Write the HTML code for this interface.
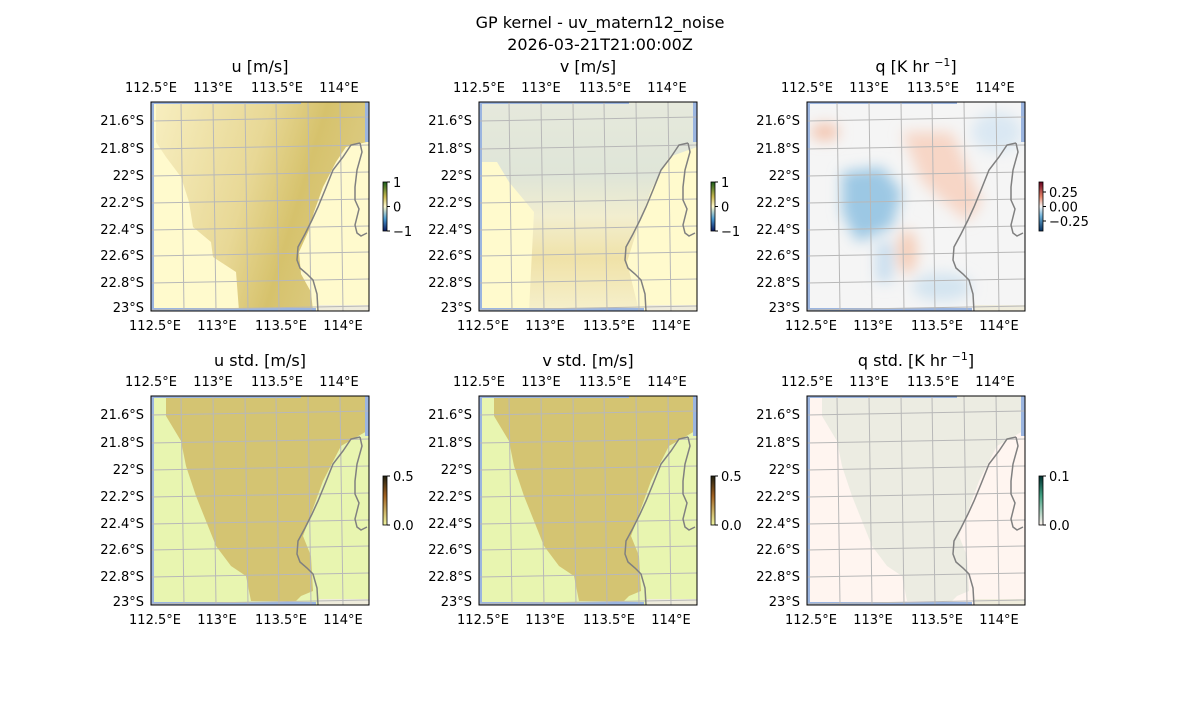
<!DOCTYPE html><html><head><meta charset="utf-8"><style>
body{margin:0;background:#fff;}
svg text{font-family:"DejaVu Sans","Liberation Sans",sans-serif;fill:#000;}
</style></head><body>
<svg id="s" width="1200" height="700" xmlns="http://www.w3.org/2000/svg">
<text x="600" y="28" font-size="16" text-anchor="middle">GP kernel - uv_matern12_noise</text>
<text x="600" y="50" font-size="16" text-anchor="middle">2026-03-21T21:00:00Z</text>
</svg>
<script>
const s=document.getElementById('s');let h='';
const cols=[151,479,807],rows=[102,396],W=218,H=209;
const titles=[["u [m/s]","v [m/s]","q [K hr <tspan dy='-6' font-size='11'>−1</tspan><tspan dy='6'>]</tspan>"],["u std. [m/s]","v std. [m/s]","q std. [K hr <tspan dy='-6' font-size='11'>−1</tspan><tspan dy='6'>]</tspan>"]];
function P(pts,x0,y0){return pts.map(p=>(p[0]+x0)+','+(p[1]+y0)).join(' ');}
const reg1=[[5,0],[5,40],[15,55],[30,75],[38,100],[42,125],[60,140],[62,155],[85,170],[88,209],[162,209],[160,190],[150,172],[148,150],[158,128],[163,110],[172,85],[185,60],[195,45],[216,40],[216,0]];
const reg2=[[15,0],[15,20],[30,45],[35,70],[45,100],[55,125],[65,150],[80,170],[95,180],[100,205],[145,205],[150,200],[162,195],[160,160],[152,140],[160,118],[172,85],[190,50],[216,35],[216,0]];
const coast="M209,41 L200,43 L192,55 L182,68 L174,88 L167,105 L161,118 L154,132 L147,145 L146,158 L149,166 L156,172 L162,178 L166,192 L167,209";
const pen="M209,41 L211,50 L206,68 L204,85 L204,98 L208,107 L206,115 L204,123 L206,131 L210,134 L216,131";
const vx=[31,63,95,126,158,190],hy=[18,46,73,100,127,153,180,207];
const bg=[["#fffacd","#fffacd","#f5f5f5"],["#e8f5b0","#e8f5b0","#fff5f0"]];
h+=`<defs>
<linearGradient id="gu" x1="0" x2="1" y1="0" y2="0.3"><stop offset="0" stop-color="#f7eebf"/><stop offset="0.5" stop-color="#e8d896"/><stop offset="0.75" stop-color="#d6c26c"/><stop offset="1" stop-color="#dccb82"/></linearGradient>
<linearGradient id="gv" x1="0" x2="0" y1="0" y2="1"><stop offset="0" stop-color="#e6e9dc"/><stop offset="0.35" stop-color="#dfe5d8"/><stop offset="0.55" stop-color="#f2eecf"/><stop offset="0.75" stop-color="#f0e2a8"/><stop offset="1" stop-color="#f6f0cc"/></linearGradient>
<linearGradient id="cb1" x1="0" x2="0" y1="0" y2="1"><stop offset="0" stop-color="#1a5e1a"/><stop offset="0.3" stop-color="#c8b850"/><stop offset="0.5" stop-color="#fffacd"/><stop offset="0.75" stop-color="#4a9ad0"/><stop offset="1" stop-color="#0a1a60"/></linearGradient>
<linearGradient id="cb2" x1="0" x2="0" y1="0" y2="1"><stop offset="0" stop-color="#67001f"/><stop offset="0.3" stop-color="#e8866a"/><stop offset="0.5" stop-color="#f7f7f7"/><stop offset="0.7" stop-color="#6aaed6"/><stop offset="1" stop-color="#053061"/></linearGradient>
<linearGradient id="cb3" x1="0" x2="0" y1="0" y2="1"><stop offset="0" stop-color="#202010"/><stop offset="0.4" stop-color="#a06020"/><stop offset="1" stop-color="#f0f5a0"/></linearGradient>
<linearGradient id="cb4" x1="0" x2="0" y1="0" y2="1"><stop offset="0" stop-color="#003030"/><stop offset="0.4" stop-color="#40a080"/><stop offset="1" stop-color="#fff5f0"/></linearGradient>
<filter id="bl"><feGaussianBlur stdDeviation="7"/></filter>
</defs>`;
for(let r=0;r<2;r++)for(let c=0;c<3;c++){
 const x0=cols[c],y0=rows[r];
 h+=`<text x="${x0+W/2}" y="${y0-30}" font-size="16" text-anchor="middle">${titles[r][c]}</text>`;
 h+=`<clipPath id="c${r}${c}"><rect x="${x0}" y="${y0}" width="${W}" height="${H}"/></clipPath><g clip-path="url(#c${r}${c})">`;
 h+=`<rect x="${x0}" y="${y0}" width="${W}" height="${H}" fill="${bg[r][c]}"/>`;
 if(r==0&&c==0)h+=`<polygon points="${P(reg1,x0,y0)}" fill="url(#gu)"/>`;
 if(r==0&&c==1){h+=`<rect x="${x0}" y="${y0}" width="${W}" height="${H}" fill="url(#gv)"/><polygon points="${P([[0,60],[18,60],[30,80],[55,110],[50,209],[0,209]],x0,y0)}" fill="#fffacd"/><polygon points="${P([[160,209],[148,160],[158,128],[172,88],[190,55],[218,45],[218,209]],x0,y0)}" fill="#fffacd"/>`;}
 if(r==0&&c==2){h+=`<g filter="url(#bl)"><path d="M${x0+35},${y0+70} l40,-5 l20,25 l-10,35 l-35,15 l-15,-30z" fill="#9cc8e4"/><path d="M${x0+70},${y0+140} l15,0 l0,40 l-15,0z" fill="#c4dcee"/><path d="M${x0+95},${y0+30} l50,0 l30,70 l-15,20 l-45,-40z" fill="#f7d6c6"/><ellipse cx="${x0+100}" cy="${y0+150}" rx="10" ry="22" fill="#f5cdb8"/><ellipse cx="${x0+190}" cy="${y0+30}" rx="25" ry="20" fill="#dae8f3"/><ellipse cx="${x0+135}" cy="${y0+185}" rx="30" ry="14" fill="#d3e4f0"/><ellipse cx="${x0+18}" cy="${y0+30}" rx="14" ry="8" fill="#f3c0a8"/></g>`;}
 if(r==1&&c<2)h+=`<polygon points="${P(reg2,x0,y0)}" fill="#d4c472"/>`;
 if(r==1&&c==2)h+=`<polygon points="${P(reg2,x0,y0)}" fill="#ecece2"/>`;
 h+=`<rect x="${x0}" y="${y0}" width="3" height="${H}" fill="#9bb5e0"/><rect x="${x0}" y="${y0}" width="150" height="2" fill="#9bb5e0"/><rect x="${x0}" y="${y0+H-3}" width="165" height="3" fill="#9bb5e0"/><rect x="${x0+W-4}" y="${y0}" width="4" height="40" fill="#9bb5e0"/><rect x="${x0+168}" y="${y0+H-6}" width="50" height="6" fill="#efecdc"/>`;
 h+=`<g transform="translate(${x0},${y0})" stroke="#b8b8b8" stroke-width="1" fill="none">`;
 vx.forEach(v=>h+=`<line x1="${v-1}" y1="0" x2="${v+2}" y2="${H}"/>`);
 hy.forEach(v=>h+=`<line x1="0" y1="${v+1}" x2="${W}" y2="${v-3}"/>`);
 h+=`<path d="${coast}" stroke="#808080" stroke-width="1.5"/><path d="${pen}" stroke="#808080" stroke-width="1.5"/></g></g>`;
 h+=`<rect x="${x0}" y="${y0}" width="${W}" height="${H}" fill="none" stroke="#000" stroke-width="1"/>`;
 [["112.5°E",0],["113°E",62],["113.5°E",126],["114°E",188]].forEach(t=>{h+=`<text x="${x0+t[1]}" y="${y0-10}" font-size="13" text-anchor="middle">${t[0]}</text><text x="${x0+t[1]+4}" y="${y0+H+19}" font-size="13" text-anchor="middle">${t[0]}</text>`;});
 ["21.6°S","21.8°S","22°S","22.2°S","22.4°S","22.6°S","22.8°S","23°S"].forEach((t,i)=>{h+=`<text x="${x0-7}" y="${y0+[18,46,73,100,127,153,180,205][i]+5}" font-size="13" text-anchor="end">${t}</text>`;});
 const cx=x0+232,cy=y0+80;
 const grad=r==0?(c<2?"cb1":"cb2"):(c<2?"cb3":"cb4");
 h+=`<rect x="${cx}" y="${cy}" width="4" height="49" fill="url(#${grad})" stroke="#000" stroke-width="0.8"/>`;
 let ticks;
 if(r==0&&c<2)ticks=[["1",0],["0",24.5],["−1",49]];
 else if(r==0)ticks=[["0.25",10],["0.00",24.5],["−0.25",39]];
 else ticks=[["0.5",0],["0.0",49]];
 if(r==1&&c==2)ticks=[["0.1",0],["0.0",49]];
 ticks.forEach(t=>{h+=`<line x1="${cx+4}" y1="${cy+t[1]}" x2="${cx+7}" y2="${cy+t[1]}" stroke="#000"/><text x="${cx+10}" y="${cy+t[1]+5}" font-size="13">${t[0]}</text>`;});
}
s.insertAdjacentHTML('beforeend',h);
</script>
</body></html>
